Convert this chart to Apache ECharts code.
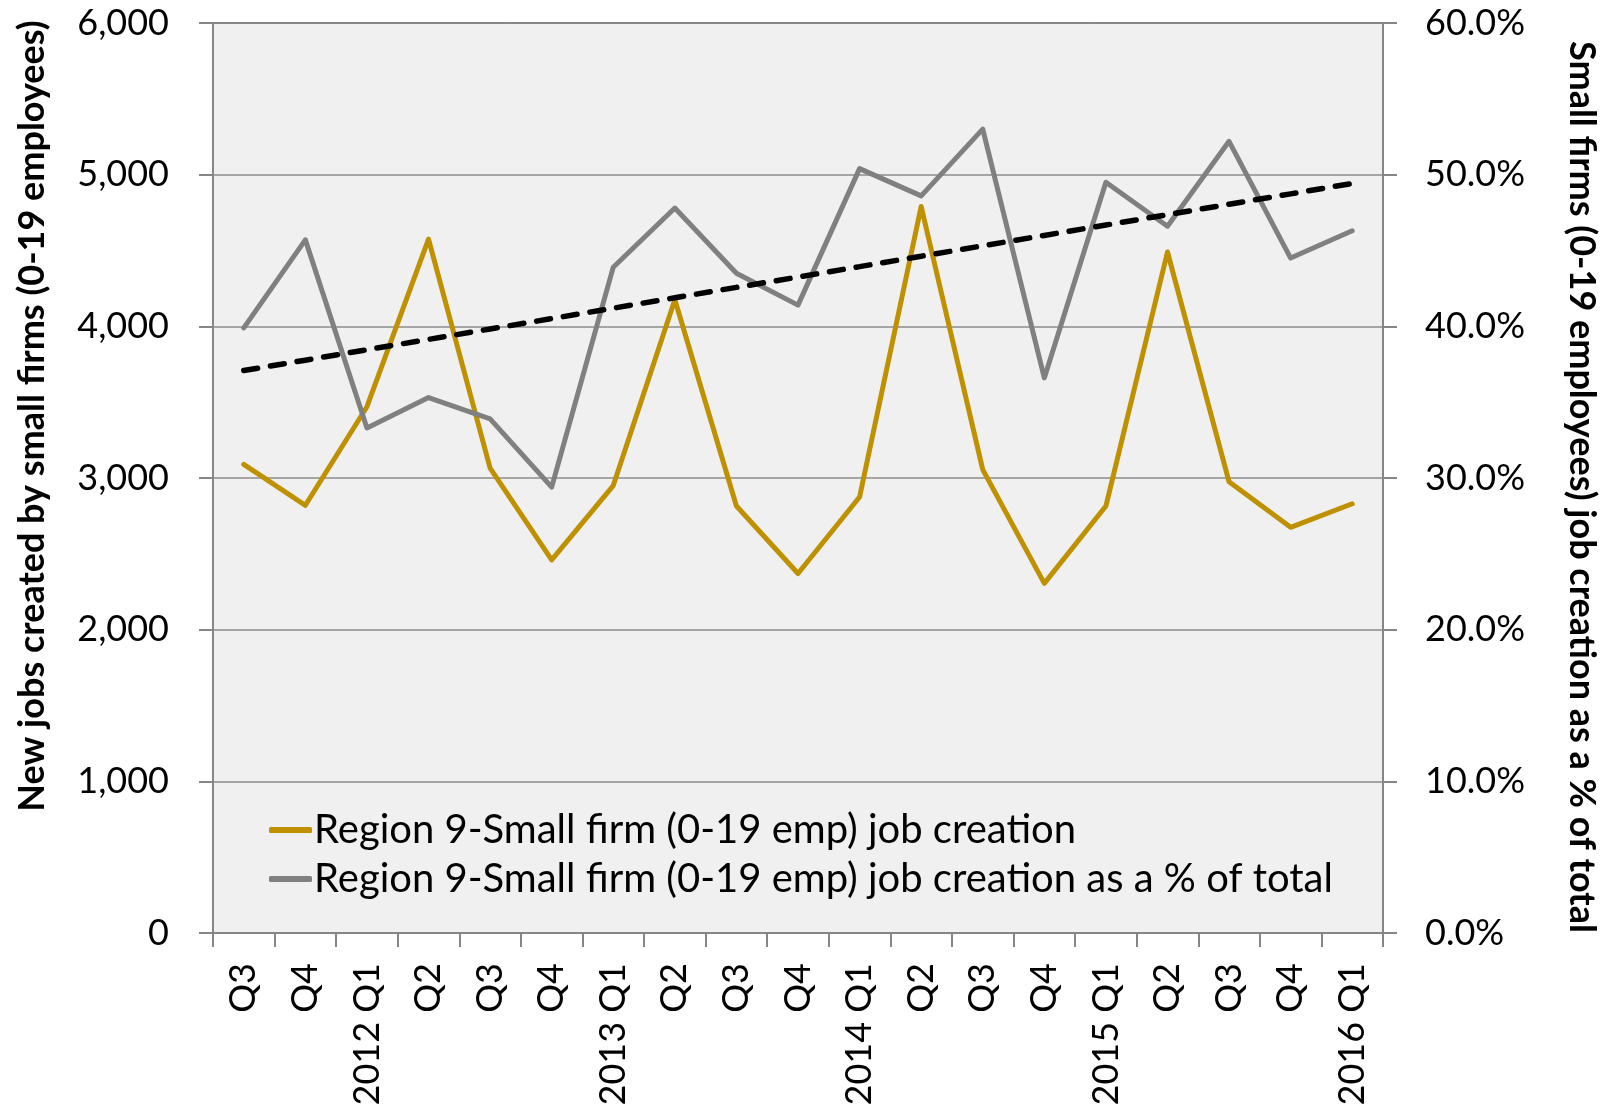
<!DOCTYPE html>
<html>
	<head>
		<meta charset="UTF-8">
		<title>Region 9 small firm job creation</title>
		<style>
			html, body { margin: 0; padding: 0; background: #fff; }
			.box { width: 1606px; height: 1109px; }
		</style>
	</head>
	<body>
		<div class="box"></div>
	</body>
</html>
<script type="text/javascript" src="https://cdn.jsdelivr.net/npm/echarts@6/dist/echarts.min.js"></script>
<script>
	var quarters = ['Q3', 'Q4', '2012 Q1', 'Q2', 'Q3', 'Q4', '2013 Q1', 'Q2', 'Q3', 'Q4',
	    '2014 Q1', 'Q2', 'Q3', 'Q4', '2015 Q1', 'Q2', 'Q3', 'Q4', '2016 Q1'];
	// new jobs by small firms (left axis)
	var jobs = [3090, 2820, 3470, 4575, 3065, 2460, 2950, 4175, 2815, 2370,
	    2875, 4790, 3055, 2305, 2815, 4490, 2975, 2675, 2830];
	// share of total job creation, % (right axis)
	var share = [39.9, 45.7, 33.3, 35.3, 33.9, 29.4, 43.9, 47.8, 43.5, 41.4,
	    50.4, 48.6, 53.0, 36.6, 49.5, 46.6, 52.2, 44.5, 46.3];

	var name1 = 'Region 9-Small firm (0-19 emp) job creation';
	var name2 = 'Region 9-Small firm (0-19 emp) job creation as a % of total';

	// linear trend of the share series (least squares, like the Excel trendline)
	var linearTrend = function (ys) {
	    var n = ys.length, sx = 0, sy = 0, sxx = 0, sxy = 0;
	    for (var i = 0; i < n; i++) {
	        sx += i; sy += ys[i]; sxx += i * i; sxy += i * ys[i];
	    }
	    var b = (n * sxy - sx * sy) / (n * sxx - sx * sx);
	    var a = (sy - b * sx) / n;
	    var res = [];
	    for (var j = 0; j < n; j++) res.push(+(a + b * j).toFixed(3));
	    return res;
	};

	var font = 'Lato';
	var axisGray = '#868686';
	var myChart = echarts.init(document.querySelector('.box'));

	var option = {
	    animation: false,
	    backgroundColor: '#ffffff',
	    textStyle: { fontFamily: font },
	    grid: {
	        left: 213, right: 223, top: 23, bottom: 176,
	        show: true,
	        backgroundColor: '#f0f0f0',
	        borderColor: '#000',
	        borderWidth: 1
	    },
	    legend: {
	        data: [name1, name2],
	        orient: 'vertical',
	        left: 264,
	        top: 803,
	        itemWidth: 43,
	        itemHeight: 6,
	        itemGap: 5,
	        icon: 'roundRect',
	        textStyle: { color: '#000', fontSize: 40, fontFamily: font, lineHeight: 44, padding: [0, 0, 0, -3] }
	    },
	    xAxis: {
	        type: 'category',
	        data: quarters,
	        boundaryGap: true,
	        axisLine: { lineStyle: { color: axisGray, width: 2 } },
	        axisTick: { show: true, interval: 0, length: 14, lineStyle: { color: axisGray, width: 2 } },
	        axisLabel: { interval: 0, rotate: 90, margin: 30, color: '#000', fontSize: 36, fontFamily: font }
	    },
	    yAxis: [{
	        type: 'value',
	        min: 0, max: 6000, interval: 1000,
	        axisLine: { show: true, lineStyle: { color: axisGray, width: 2 } },
	        axisTick: { show: true, length: 14, lineStyle: { color: axisGray, width: 2 } },
	        splitLine: { lineStyle: { color: '#8c8c8c', width: 1.5 } },
	        axisLabel: {
	            margin: 44, color: '#000', fontSize: 36, fontFamily: font,
	            formatter: function (v) { return v.toLocaleString('en-US'); }
	        }
	    }, {
	        type: 'value',
	        min: 0, max: 60, interval: 10,
	        position: 'right',
	        axisLine: { show: true, lineStyle: { color: axisGray, width: 2 } },
	        axisTick: { show: true, length: 14, lineStyle: { color: axisGray, width: 2 } },
	        splitLine: { show: false },
	        axisLabel: {
	            margin: 42, color: '#000', fontSize: 36, fontFamily: font,
	            formatter: function (v) { return v.toFixed(1) + '%'; }
	        }
	    }],
	    graphic: [{
	        type: 'text',
	        x: 32, y: 416,
	        rotation: Math.PI / 2,
	        style: {
	            text: 'New jobs created by small firms (0-19 employees)',
	            font: 'bold 36px Lato',
	            fill: '#000',
	            textAlign: 'center',
	            textVerticalAlign: 'middle'
	        }
	    }, {
	        type: 'text',
	        x: 1582, y: 487,
	        rotation: -Math.PI / 2,
	        style: {
	            text: 'Small firms (0-19 employees) job creation as a % of total',
	            font: 'bold 36px Lato',
	            fill: '#000',
	            textAlign: 'center',
	            textVerticalAlign: 'middle'
	        }
	    }],
	    series: [{
	        name: name1,
	        type: 'line',
	        data: jobs,
	        symbol: 'none',
	        itemStyle: { color: '#bf9000' },
	        lineStyle: { color: '#bf9000', width: 5, join: 'round', cap: 'round' }
	    }, {
	        name: name2,
	        type: 'line',
	        yAxisIndex: 1,
	        data: share,
	        symbol: 'none',
	        itemStyle: { color: '#808080' },
	        lineStyle: { color: '#808080', width: 5, join: 'round', cap: 'round' }
	    }, {
	        name: 'Linear trend',
	        type: 'line',
	        yAxisIndex: 1,
	        data: linearTrend(share),
	        symbol: 'none',
	        silent: true,
	        itemStyle: { color: '#000' },
	        lineStyle: { color: '#000', width: 5.5, type: [14, 13], cap: 'round' }
	    }]
	};
	myChart.setOption(option);
</script>
